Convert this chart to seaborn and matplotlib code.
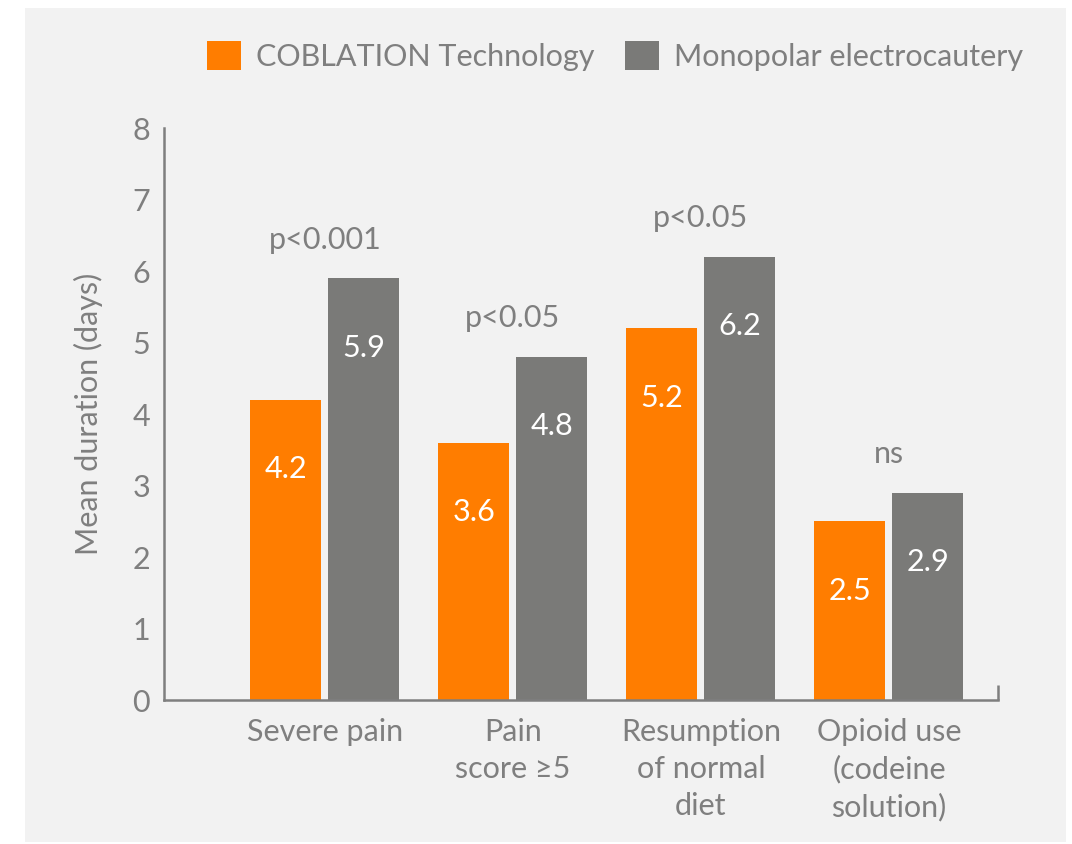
import matplotlib
matplotlib.use('Agg')
import matplotlib.pyplot as plt
import seaborn as sns
import pandas as pd

# data
categories = ['Severe pain', 'Pain\nscore ≥5', 'Resumption\nof normal\ndiet', 'Opioid use\n(codeine\nsolution)']
series = ['COBLATION Technology', 'Monopolar electrocautery']
coblation = [4.2, 3.6, 5.2, 2.5]
monopolar = [5.9, 4.8, 6.2, 2.9]
p_labels = ['p<0.001', 'p<0.05', 'p<0.05', 'ns']

df = pd.DataFrame({
    'Category': categories * 2,
    'Group': [series[0]] * len(categories) + [series[1]] * len(categories),
    'Days': coblation + monopolar,
})

sns.set_style('white')
plt.rcParams['font.family'] = ['Lato', 'DejaVu Sans']

bg = '#f2f2f2'
grey = '#7f7f7f'
fs = 22

fig = plt.figure(figsize=(10.72, 8.44), dpi=100, facecolor='white')
fig.patches.append(plt.Rectangle((0.0233, 0.0024), 0.9711, 0.9881, transform=fig.transFigure,
                                 facecolor=bg, edgecolor='none', zorder=-10))
ax = fig.add_axes([0.153, 0.1706, 0.778, 0.6777])
ax.set_facecolor(bg)

sns.barplot(data=df, x='Category', y='Days', hue='Group', palette=['#ff7d00', '#7a7a78'],
            saturation=1, width=0.83, gap=0.09, linewidth=0, ax=ax)

ax.set_xlim(-0.856, 3.58)
ax.set_ylim(0, 8)
ax.set_yticks(range(9))
ax.set_xlabel('')
ax.set_ylabel('Mean duration (days)', fontsize=fs, color=grey, labelpad=21)

sns.despine(ax=ax)
for s in ['left', 'bottom']:
    ax.spines[s].set_color(grey)
    ax.spines[s].set_linewidth(1.8)
ax.plot([1, 1], [0, 0.027], transform=ax.transAxes, color=grey, lw=1.8,
        clip_on=False, solid_capstyle='butt')

ax.tick_params(axis='y', direction='in', length=14, width=1.8, color=grey,
               labelsize=fs, labelcolor=grey, pad=10)
ax.tick_params(axis='x', length=0, labelsize=fs, labelcolor=grey, pad=13)
for lab in ax.get_xticklabels():
    lab.set_linespacing(1.38)

# values inside bars
for cont in ax.containers:
    for bar in cont:
        h = bar.get_height()
        ax.text(bar.get_x() + bar.get_width() / 2, h - 0.97, f'{h:.1f}',
                ha='center', va='center', color='white', fontsize=fs)

# significance labels
for i, lbl in enumerate(p_labels):
    top = max(coblation[i], monopolar[i])
    ax.text(i, top + 0.54, lbl, ha='center', va='center', color=grey, fontsize=fs)

handles, labels = ax.get_legend_handles_labels()
ax.get_legend().remove()
fig.legend(handles, labels, loc='center left', bbox_to_anchor=(0.1931, 0.9336), ncol=2,
           frameon=False, fontsize=fs, labelcolor=grey, handlelength=1.1, handleheight=1.1,
           handletextpad=0.5, columnspacing=1.0, borderpad=0, borderaxespad=0)

fig.savefig('out.png', dpi=100, facecolor='white')
